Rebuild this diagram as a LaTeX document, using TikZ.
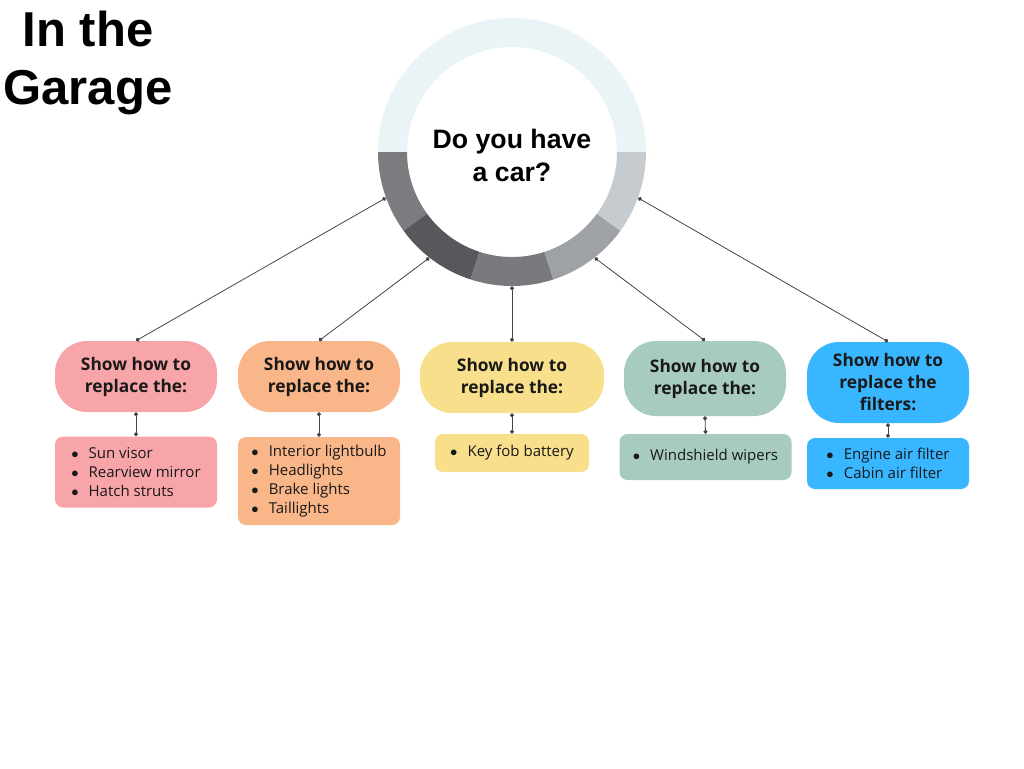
\documentclass[tikz,border=0pt]{standalone}
\usepackage{fontspec}
\setmainfont{Open Sans}
\newfontfamily\headfont{Liberation Sans}
\usetikzlibrary{arrows.meta}

\definecolor{ringtop}{HTML}{EAF3F5}
\definecolor{ringA}{HTML}{7B7B80}
\definecolor{ringB}{HTML}{58575C}
\definecolor{ringC}{HTML}{79797E}
\definecolor{ringD}{HTML}{9EA2A6}
\definecolor{ringE}{HTML}{C5CBCE}
\definecolor{pinkbox}{HTML}{F7A5A8}
\definecolor{orangebox}{HTML}{F9B689}
\definecolor{yellowbox}{HTML}{F7DF8B}
\definecolor{greenbox}{HTML}{A8CBBF}
\definecolor{bluebox}{HTML}{38B6FF}
\definecolor{linkgray}{HTML}{444444}

\newcommand{\itm}{\makebox[13pt][l]{$\bullet$}}

\begin{document}
\begin{tikzpicture}[x=0.75pt, y=-0.75pt,
    head/.style={rounded corners=24pt, minimum width=121.5pt, minimum height=53.25pt,
      inner sep=0pt, align=center, text=black!90,
      font=\fontsize{13}{16.5}\selectfont\bfseries},
    list/.style={rounded corners=6pt, minimum width=121.5pt, inner sep=0pt,
      align=left, text=black!90, font=\fontsize{11.25}{14.25}\selectfont},
    link/.style={draw=linkgray, line width=0.6pt, {Circle[length=3pt]}-{Circle[length=3pt]}}]
  \useasboundingbox (0,0) rectangle (1024,768);

  % Titel
  \node[align=center, font=\headfont\fontsize{36.75}{44}\selectfont\bfseries] (title) at (88,63) {In the\\Garage};

  % Ring
  \begin{scope}[shift={(512,152)}]
    \fill[ringtop] (180:134) arc[start angle=180, end angle=360, radius=134]
      -- (360:105) arc[start angle=360, end angle=180, radius=105] -- cycle;
    \foreach \a/\c in {180/ringA, 144/ringB, 108/ringC, 72/ringD, 36/ringE}
      \fill[\c] (\a:134) arc[start angle=\a, delta angle=-36, radius=134]
        -- (\a-36:105) arc[start angle=\a-36, delta angle=36, radius=105] -- cycle;
  \end{scope}
  \node[circle, minimum size=201pt, inner sep=0pt, align=center,
    font=\headfont\fontsize{20}{24.75}\selectfont\bfseries] (car) at (512,152) {\rule{0pt}{19.5pt}Do you have\\a car?};

  % Kopfboxen
  \node[head, fill=pinkbox] (h1) at (136,376.5) {Show how to\\replace the:};
  \node[head, fill=orangebox] (h2) at (319,376.5) {Show how to\\replace the:};
  \node[head, fill=yellowbox, minimum width=138pt] (h3) at (512,377.5) {Show how to\\replace the:};
  \node[head, fill=greenbox, minimum height=56.25pt] (h4) at (705,378.5) {Show how to\\replace the:};
  \node[head, fill=bluebox, minimum height=60.75pt] (h5) at (888,382.5) {Show how to\\replace the\\filters:};

  % Listen
  \node[list, fill=pinkbox, minimum height=53.25pt] (l1) at (136,472) {\itm Sun visor\\\itm Rearview mirror\\\itm Hatch struts};
  \node[list, fill=orangebox, minimum height=66pt] (l2) at (319,481) {\itm Interior lightbulb\\\itm Headlights\\\itm Brake lights\\\itm Taillights};
  \node[list, fill=yellowbox, minimum width=115.5pt, minimum height=28.5pt] (l3) at (512,453) {\itm Key fob battery};
  \node[list, fill=greenbox, minimum width=129pt, minimum height=34.5pt] (l4) at (705.5,457) {\itm Windshield wipers};
  \node[list, fill=bluebox, minimum height=38.25pt] (l5) at (888,463.5) {\itm Engine air filter\\\itm Cabin air filter};

  % Verbindungen
  \draw[link] (car.200) -- (h1.north);
  \draw[link] (car.232) -- (h2.north);
  \draw[link] (car.270) -- (h3.north);
  \draw[link] (car.308) -- (h4.north);
  \draw[link] (car.340) -- (h5.north);
  \foreach \i in {1,...,5}
    \draw[link] (h\i.south) -- (l\i.north);
\end{tikzpicture}
\end{document}
